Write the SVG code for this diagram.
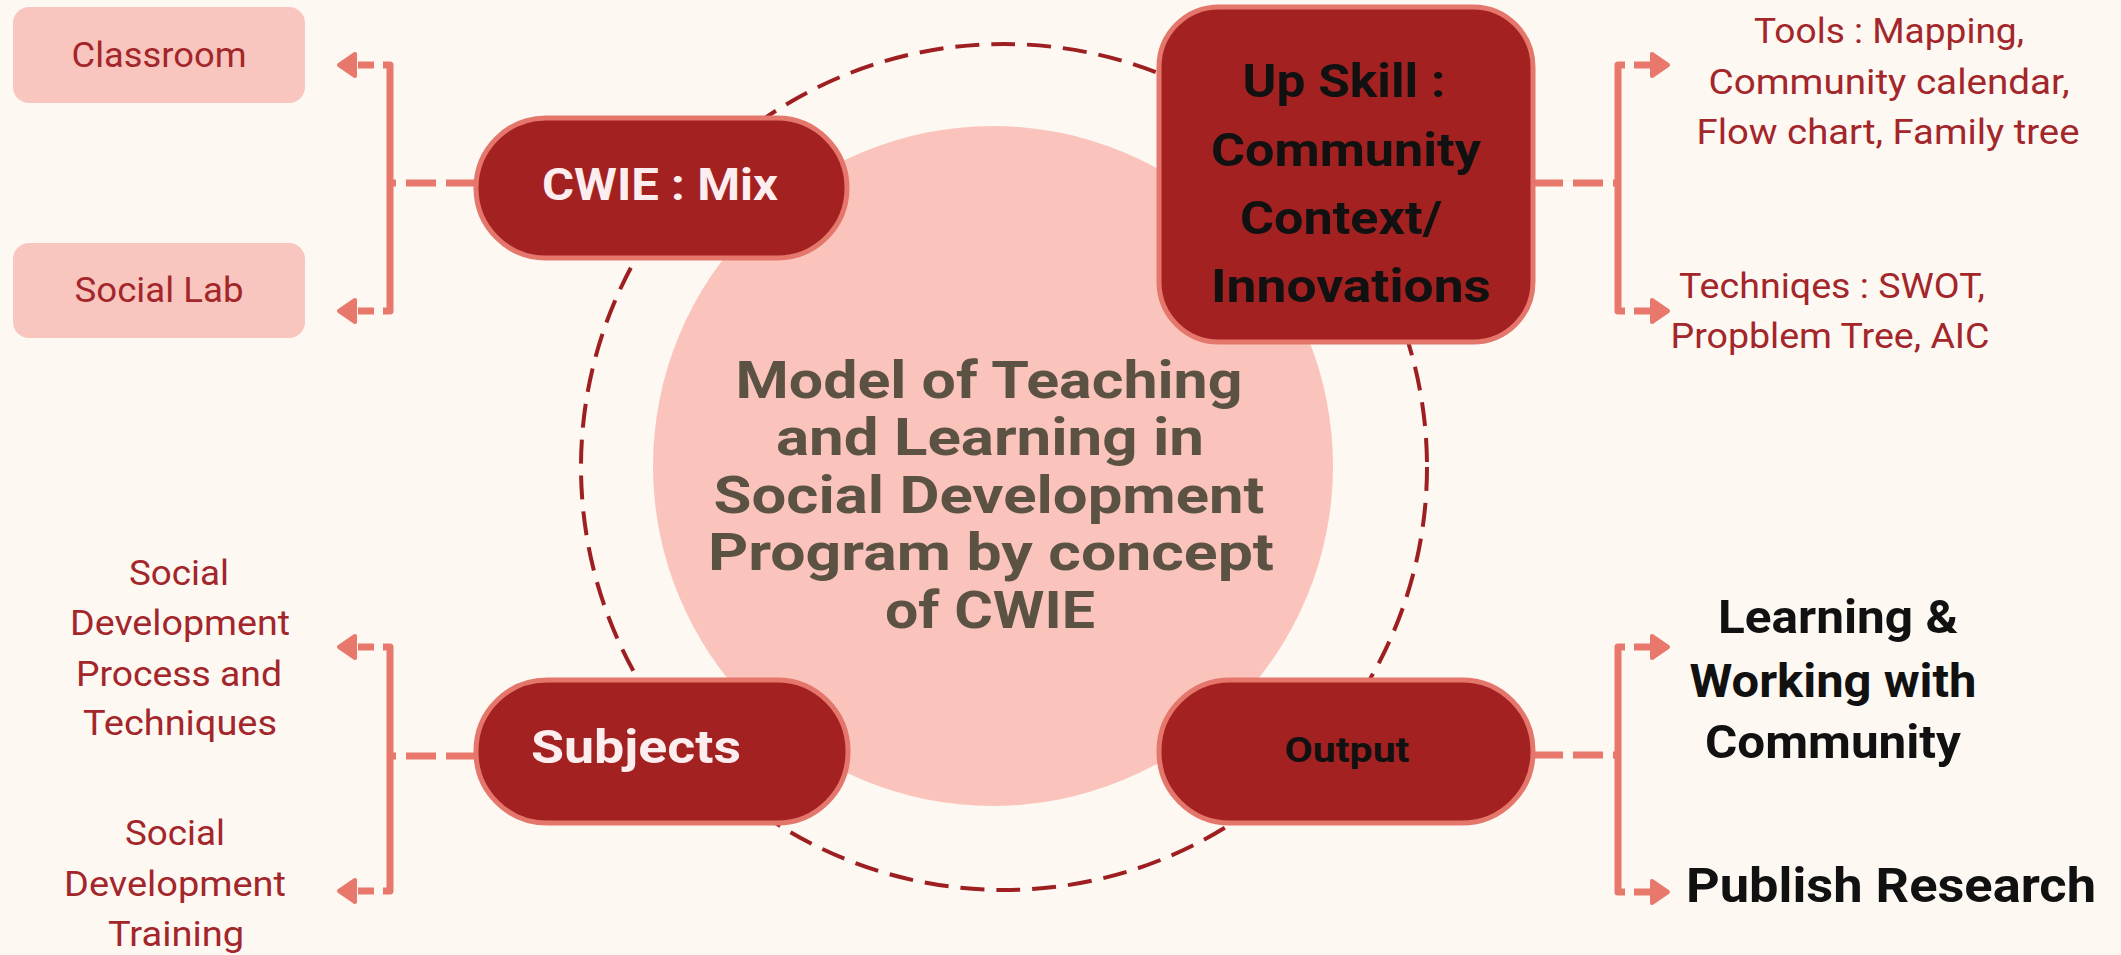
<svg xmlns="http://www.w3.org/2000/svg" width="2121" height="955" viewBox="0 0 2121 955">
<defs>
<style>
.t{font-family:Roboto,"Liberation Sans",sans-serif;text-anchor:middle}
.red{fill:#A3262B;font-size:35px}
.box{font-size:35px}
.ctr{fill:#5B5244;font-size:52px;font-weight:700}
.blk{fill:#111;font-weight:700}
.wh{fill:#FCEDEE;font-weight:700}
.pill{fill:#A32221;stroke:#E5766B;stroke-width:5}
.lbox{fill:#F9C6BF}
.br{fill:none;stroke:#E8776C;stroke-width:7;stroke-linejoin:round}
.dash{fill:none;stroke:#E8776C;stroke-width:7;stroke-dasharray:30 10}
.ah{fill:#E8776C;stroke:#E8776C;stroke-width:4;stroke-linejoin:round}
</style>
</defs>
<rect x="0" y="0" width="2121" height="955" fill="#FDF8F2"/>
<g id="center">
<circle cx="993" cy="466" r="340" fill="#FAC4BC"/>
<circle cx="1004" cy="467" r="423" fill="none" stroke="#9E1F22" stroke-width="4" stroke-dasharray="24 12"/>
<text class="t ctr" x="989" y="398" textLength="507" lengthAdjust="spacingAndGlyphs">Model of Teaching</text>
<text class="t ctr" x="990" y="455" textLength="428" lengthAdjust="spacingAndGlyphs">and Learning in</text>
<text class="t ctr" x="989" y="513" textLength="551" lengthAdjust="spacingAndGlyphs">Social Development</text>
<text class="t ctr" x="991" y="570" textLength="566" lengthAdjust="spacingAndGlyphs">Program by concept</text>
<text class="t ctr" x="990" y="628" textLength="210" lengthAdjust="spacingAndGlyphs">of CWIE</text>
</g>
<g id="connectors">
<path class="dash" d="M476,183 H390"/>
<path class="br" d="M383,65 H390 V311 H383"/>
<path class="br" d="M374,65 H358 M374,311 H358"/>
<polygon class="ah" points="339,65 355,54 355,76"/>
<polygon class="ah" points="339,311 355,300 355,322"/>
<path class="dash" d="M476,756 H390"/>
<path class="br" d="M383,647 H390 V891 H383"/>
<path class="br" d="M374,647 H358 M374,891 H358"/>
<polygon class="ah" points="339,647 355,636 355,658"/>
<polygon class="ah" points="339,891 355,880 355,902"/>
<path class="dash" d="M1533,183 H1618"/>
<path class="br" d="M1625,65 H1618 V311 H1625"/>
<path class="br" d="M1634,65 H1650 M1634,311 H1650"/>
<polygon class="ah" points="1668,65 1652,54 1652,76"/>
<polygon class="ah" points="1668,311 1652,300 1652,322"/>
<path class="dash" d="M1533,755 H1618"/>
<path class="br" d="M1625,647 H1618 V892 H1625"/>
<path class="br" d="M1634,647 H1650 M1634,892 H1650"/>
<polygon class="ah" points="1668,647 1652,636 1652,658"/>
<polygon class="ah" points="1668,892 1652,881 1652,903"/>
</g>
<g id="cwie-mix">
<rect class="pill" x="476" y="118" width="371" height="140" rx="70"/>
<text class="t wh" x="660" y="200" font-size="45" textLength="236" lengthAdjust="spacingAndGlyphs">CWIE : Mix</text>
</g>
<g id="upskill">
<rect class="pill" x="1159" y="7" width="374" height="335" rx="60"/>
<text class="t blk" x="1344" y="97" font-size="47" textLength="203" lengthAdjust="spacingAndGlyphs">Up Skill :</text>
<text class="t blk" x="1346" y="166" font-size="47" textLength="270" lengthAdjust="spacingAndGlyphs">Community</text>
<text class="t blk" x="1341" y="234" font-size="47" textLength="202" lengthAdjust="spacingAndGlyphs">Context/</text>
<text class="t blk" x="1351" y="302" font-size="47" textLength="280" lengthAdjust="spacingAndGlyphs">Innovations</text>
</g>
<g id="subjects">
<rect class="pill" x="476" y="680" width="372" height="143" rx="71"/>
<text class="t wh" x="636" y="763" font-size="47" textLength="210" lengthAdjust="spacingAndGlyphs">Subjects</text>
</g>
<g id="output">
<rect class="pill" x="1159" y="680" width="374" height="143" rx="71"/>
<text class="t blk" x="1347" y="762" font-size="35" textLength="125" lengthAdjust="spacingAndGlyphs">Output</text>
</g>
<g id="classroom">
<rect class="lbox" x="13" y="7" width="292" height="96" rx="16"/>
<text class="t red box" x="159" y="67" textLength="175" lengthAdjust="spacingAndGlyphs">Classroom</text>
</g>
<g id="social-lab">
<rect class="lbox" x="13" y="243" width="292" height="95" rx="16"/>
<text class="t red box" x="159" y="302" textLength="169" lengthAdjust="spacingAndGlyphs">Social Lab</text>
</g>
<g id="tools">
<text class="t red" x="1889" y="43" textLength="270" lengthAdjust="spacingAndGlyphs">Tools : Mapping,</text>
<text class="t red" x="1889" y="94" textLength="361" lengthAdjust="spacingAndGlyphs">Community calendar,</text>
<text class="t red" x="1888" y="144" textLength="383" lengthAdjust="spacingAndGlyphs">Flow chart, Family tree</text>
</g>
<g id="techniques">
<text class="t red" x="1832" y="298" textLength="306" lengthAdjust="spacingAndGlyphs">Techniqes : SWOT,</text>
<text class="t red" x="1830" y="348" textLength="319" lengthAdjust="spacingAndGlyphs">Propblem Tree, AIC</text>
</g>
<g id="sd-process">
<text class="t red" x="179" y="585" textLength="100" lengthAdjust="spacingAndGlyphs">Social</text>
<text class="t red" x="180" y="635" textLength="220" lengthAdjust="spacingAndGlyphs">Development</text>
<text class="t red" x="179" y="686" textLength="206" lengthAdjust="spacingAndGlyphs">Process and</text>
<text class="t red" x="180" y="735" textLength="194" lengthAdjust="spacingAndGlyphs">Techniques</text>
</g>
<g id="sd-training">
<text class="t red" x="175" y="845" textLength="100" lengthAdjust="spacingAndGlyphs">Social</text>
<text class="t red" x="175" y="896" textLength="222" lengthAdjust="spacingAndGlyphs">Development</text>
<text class="t red" x="176" y="946" textLength="136" lengthAdjust="spacingAndGlyphs">Training</text>
</g>
<g id="learning">
<text class="t blk" x="1838" y="633" font-size="47" textLength="240" lengthAdjust="spacingAndGlyphs">Learning &amp;</text>
<text class="t blk" x="1833" y="697" font-size="47" textLength="287" lengthAdjust="spacingAndGlyphs">Working with</text>
<text class="t blk" x="1833" y="758" font-size="47" textLength="256" lengthAdjust="spacingAndGlyphs">Community</text>
</g>
<g id="publish">
<text class="t blk" x="1891" y="902" font-size="49" textLength="410" lengthAdjust="spacingAndGlyphs">Publish Research</text>
</g>
</svg>
